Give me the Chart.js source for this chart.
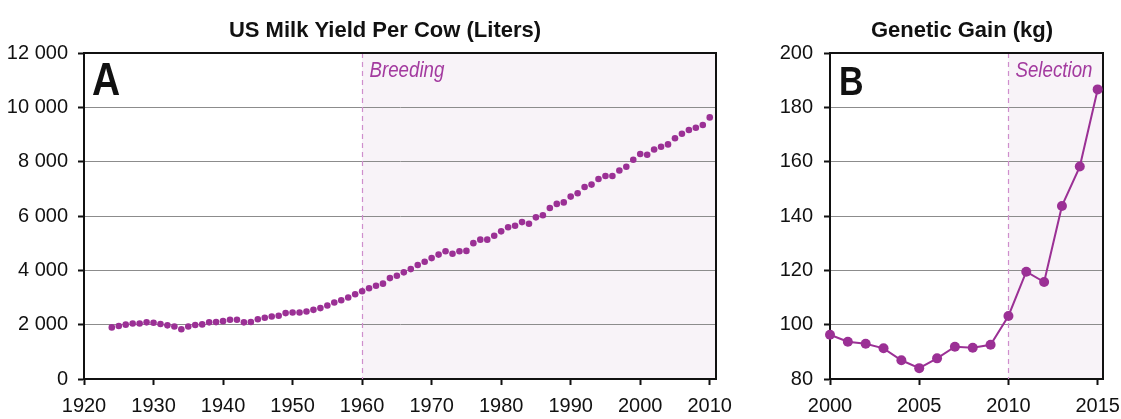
<!DOCTYPE html>
<html>
<head>
<meta charset="utf-8">
<script src="https://cdn.jsdelivr.net/npm/chart.js@4/dist/chart.umd.min.js"></script>
<style>
  html, body { margin: 0; padding: 0; background: #ffffff; }
  #wrap { position: relative; width: 1121px; height: 419px; overflow: hidden; }
  .panel { position: absolute; top: 0; height: 419px; }
  #boxA { left: 0; width: 748px; }
  #boxB { left: 760px; width: 361px; }
</style>
</head>
<body>
<div id="wrap">
  <div class="panel" id="boxA"><canvas id="chartA"></canvas></div>
  <div class="panel" id="boxB"><canvas id="chartB"></canvas></div>
</div>
<script>
const milkYears = [
  1924, 1925, 1926, 1927, 1928, 1929, 1930, 1931, 1932, 1933,
  1934, 1935, 1936, 1937, 1938, 1939, 1940, 1941, 1942, 1943,
  1944, 1945, 1946, 1947, 1948, 1949, 1950, 1951, 1952, 1953,
  1954, 1955, 1956, 1957, 1958, 1959, 1960, 1961, 1962, 1963,
  1964, 1965, 1966, 1967, 1968, 1969, 1970, 1971, 1972, 1973,
  1974, 1975, 1976, 1977, 1978, 1979, 1980, 1981, 1982, 1983,
  1984, 1985, 1986, 1987, 1988, 1989, 1990, 1991, 1992, 1993,
  1994, 1995, 1996, 1997, 1998, 1999, 2000, 2001, 2002, 2003,
  2004, 2005, 2006, 2007, 2008, 2009, 2010
];
const milkYield = [
  1900, 1950, 2000, 2045, 2045, 2085, 2070, 2025, 1975, 1935,
  1830, 1935, 1985, 2010, 2085, 2095, 2130, 2180, 2180, 2085,
  2100, 2200, 2255, 2300, 2330, 2425, 2450, 2450, 2485, 2545,
  2610, 2705, 2815, 2900, 3000, 3120, 3230, 3340, 3435, 3510,
  3715, 3800, 3925, 4045, 4195, 4315, 4450, 4580, 4705, 4610,
  4705, 4715, 5000, 5130, 5130, 5275, 5435, 5585, 5640, 5775,
  5715, 5950, 6030, 6295, 6445, 6500, 6715, 6835, 7065, 7155,
  7360, 7470, 7470, 7675, 7815, 8070, 8280, 8255, 8450, 8550,
  8635, 8860, 9030, 9165, 9250, 9350, 9630
];

const gainYears = [2000, 2001, 2002, 2003, 2004, 2005, 2006, 2007, 2008, 2009, 2010, 2011, 2012, 2013, 2014, 2015];
const gainKg = [96.3, 93.7, 93.0, 91.3, 86.9, 84.0, 87.6, 91.9, 91.5, 92.6, 103.2, 119.5, 115.7, 143.7, 158.2, 186.6];

const PURPLE = '#9b3095';
const FONT = '"Liberation Sans", Arial, sans-serif';

Chart.defaults.font.family = FONT;
Chart.defaults.color = '#111111';

function spaced(value) {
  return String(value).replace(/\B(?=(\d{3})+(?!\d))/g, ' ');
}

// draw text squeezed horizontally, to get the narrow look of the original
function narrowText(ctx, text, x, y, squeeze) {
  ctx.save();
  ctx.translate(x, y);
  ctx.scale(squeeze, 1);
  ctx.fillText(text, 0, 0);
  ctx.restore();
}

const panelDecor = {
  id: 'panelDecor',
  beforeDraw(chart, args, opts) {
    const { ctx, chartArea, scales } = chart;
    const x0 = scales.x.getPixelForValue(opts.startAt);
    ctx.save();
    ctx.fillStyle = '#f8f3f8';
    ctx.fillRect(x0, chartArea.top, chartArea.right - x0, chartArea.bottom - chartArea.top);
    ctx.restore();
  },
  beforeDatasetsDraw(chart, args, opts) {
    const { ctx, chartArea, scales } = chart;
    const x0 = Math.round(scales.x.getPixelForValue(opts.startAt)) + 0.5;
    ctx.save();
    ctx.strokeStyle = '#cf8ecd';
    ctx.lineWidth = 1.2;
    ctx.setLineDash([5, 4]);
    ctx.beginPath();
    ctx.moveTo(x0, chartArea.top);
    ctx.lineTo(x0, chartArea.bottom);
    ctx.stroke();
    ctx.setLineDash([]);

    ctx.strokeStyle = '#111111';
    ctx.lineWidth = 2;
    ctx.beginPath();
    ctx.moveTo(chartArea.left, chartArea.top);
    ctx.lineTo(chartArea.right, chartArea.top);
    ctx.lineTo(chartArea.right, chartArea.bottom);
    ctx.stroke();

    ctx.fillStyle = '#111111';
    ctx.textBaseline = 'alphabetic';
    ctx.textAlign = 'center';
    ctx.font = 'bold 22px ' + FONT;
    ctx.fillText(opts.title, opts.titleX, 37);

    ctx.textAlign = 'left';
    ctx.font = 'bold ' + opts.letterSize + 'px ' + FONT;
    narrowText(ctx, opts.letter, chartArea.left + opts.letterDx, 94.5, 0.83);

    ctx.fillStyle = '#a33a9f';
    ctx.font = 'italic 22px ' + FONT;
    narrowText(ctx, opts.region, x0 + 7, 76.5, 0.85);
    ctx.restore();
  }
};

function fixAxis(size, horizontal) {
  return (scale) => {
    if (horizontal) {
      scale.height = size;
    } else {
      scale.width = size;
    }
    scale.paddingLeft = 0;
    scale.paddingRight = 0;
    scale.paddingTop = 0;
    scale.paddingBottom = 0;
  };
}

function renderPanel(canvasId, cfg) {
  const ctx = document.getElementById(canvasId);
  return new Chart(ctx, {
    type: 'line',
    data: {
      datasets: [{
        data: cfg.xs.map((x, i) => ({ x, y: cfg.ys[i] })),
        showLine: cfg.showLine,
        borderColor: PURPLE,
        backgroundColor: PURPLE,
        borderWidth: 2,
        pointRadius: cfg.pointRadius,
        pointBorderWidth: 0,
        pointHoverRadius: cfg.pointRadius,
        tension: 0,
        clip: false
      }]
    },
    options: {
      responsive: true,
      maintainAspectRatio: false,
      animation: false,
      events: [],
      layout: {
        padding: { top: 53, right: cfg.padRight, left: 0, bottom: 0 }
      },
      plugins: {
        legend: { display: false },
        tooltip: { enabled: false },
        panelDecor: {
          startAt: cfg.startAt,
          title: cfg.title,
          titleX: cfg.titleX,
          letter: cfg.letter,
          letterSize: cfg.letterSize,
          letterDx: cfg.letterDx,
          region: cfg.region
        }
      },
      scales: {
        x: {
          type: 'linear',
          min: cfg.xMin,
          max: cfg.xMax,
          afterFit: fixAxis(40, true),
          ticks: {
            stepSize: cfg.xStep,
            includeBounds: false,
            padding: 9,
            maxRotation: 0,
            autoSkip: false,
            color: '#111111',
            font: { size: 20 },
            callback: (v) => String(v)
          },
          grid: {
            drawOnChartArea: false,
            drawTicks: true,
            tickLength: 6,
            tickColor: '#111111',
            tickWidth: 2
          },
          border: { color: '#111111', width: 2 }
        },
        y: {
          min: cfg.yMin,
          max: cfg.yMax,
          afterFit: fixAxis(cfg.yAxisWidth, false),
          ticks: {
            stepSize: cfg.yStep,
            padding: cfg.yPad,
            color: '#111111',
            font: { size: 20 },
            callback: (v) => spaced(v)
          },
          grid: {
            color: '#8c8c8c',
            lineWidth: 1,
            tickLength: 6,
            tickColor: '#111111',
            tickWidth: 2
          },
          border: { color: '#111111', width: 2 }
        }
      }
    },
    plugins: [panelDecor]
  });
}

renderPanel('chartA', {
  xs: milkYears,
  ys: milkYield,
  showLine: false,
  pointRadius: 3.3,
  xMin: 1920,
  xMax: 2010.9,
  xStep: 10,
  yMin: 0,
  yMax: 12000,
  yStep: 2000,
  yAxisWidth: 84,
  yPad: 10,
  padRight: 32,
  startAt: 1960,
  title: 'US Milk Yield Per Cow (Liters)',
  titleX: 385,
  letter: 'A',
  letterSize: 47,
  letterDx: 8,
  region: 'Breeding'
});

renderPanel('chartB', {
  xs: gainYears,
  ys: gainKg,
  showLine: true,
  pointRadius: 5,
  xMin: 2000,
  xMax: 2015.3,
  xStep: 5,
  yMin: 80,
  yMax: 200,
  yStep: 20,
  yAxisWidth: 70,
  yPad: 11,
  padRight: 18,
  startAt: 2010,
  title: 'Genetic Gain (kg)',
  titleX: 202,
  letter: 'B',
  letterSize: 41,
  letterDx: 9,
  region: 'Selection'
});
</script>
</body>
</html>
